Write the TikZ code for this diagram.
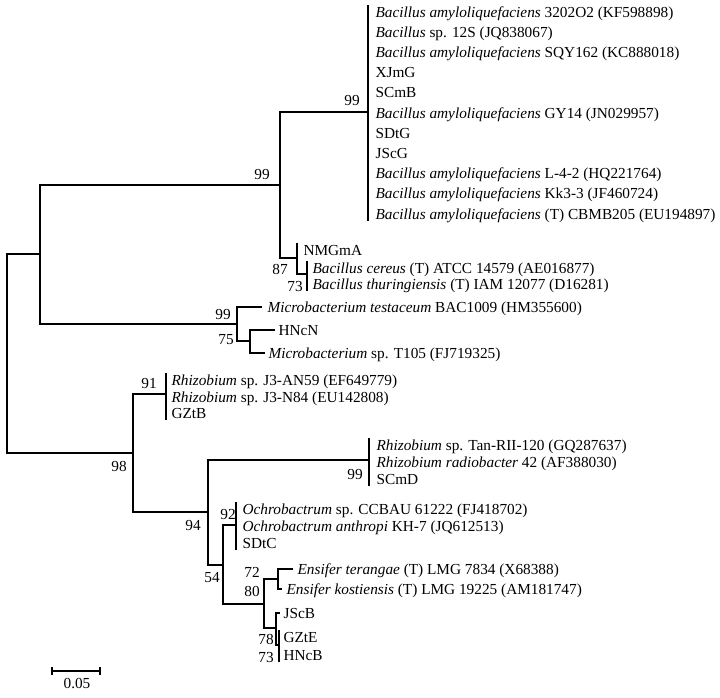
\documentclass[tikz,border=0pt]{standalone}
\usepackage{fontspec}
\setmainfont{Liberation Serif}
\usetikzlibrary{positioning,calc}

\tikzset{
  taxon/.style={anchor=west, inner sep=0pt, text height=11pt, text depth=1pt},
  boot/.style={inner sep=0pt}
}

\begin{document}
\begin{tikzpicture}[x=1pt, y=-1pt, line width=1.1pt,
    font=\fontsize{15.3pt}{18pt}\selectfont]
    \useasboundingbox (0,0) rectangle (720,697);

    % internal nodes of the tree
    \coordinate (root) at (7,354);
    \coordinate (nA) at (40,254);
    \coordinate (nB) at (280,185);
    \coordinate (nBam) at (368,112);
    \coordinate (nC) at (297,258);
    \coordinate (nD) at (307,274);
    \coordinate (nM) at (237,324);
    \coordinate (nN) at (250,341);
    \coordinate (nR) at (133,453);
    \coordinate (nJ3) at (166,394);
    \coordinate (nS) at (208,512);
    \coordinate (nRad) at (369,460);
    \coordinate (nT) at (223,565);
    \coordinate (nOch) at (236,525);
    \coordinate (nE) at (264,604);
    \coordinate (nF) at (278,579);
    \coordinate (nG) at (276,628);
    \coordinate (nH) at (279,645);

    % ends of tip branches
    \coordinate (tMt) at (262,307);
    \coordinate (tHNcN) at (275,330);
    \coordinate (tT105) at (265,353);
    \coordinate (tEt) at (293,569);
    \coordinate (tEk) at (282,589);
    \coordinate (tJScB) at (280,613);

    % Bacillus amyloliquefaciens cluster
    \node [taxon] (bam1) at (375,12) {\textit{Bacillus amyloliquefaciens} 3202O2 (KF598898)};
    \node [taxon] (bam2) at (375,32.2) {\textit{Bacillus} sp. 12S (JQ838067)};
    \node [taxon] (bam3) at (375,52.4) {\textit{Bacillus amyloliquefaciens} SQY162 (KC888018)};
    \node [taxon] (bam4) at (375,72.6) {XJmG};
    \node [taxon] (bam5) at (375,92.8) {SCmB};
    \node [taxon] (bam6) at (375,113) {\textit{Bacillus amyloliquefaciens} GY14 (JN029957)};
    \node [taxon] (bam7) at (375,133.2) {SDtG};
    \node [taxon] (bam8) at (375,153.4) {JScG};
    \node [taxon] (bam9) at (375,173.6) {\textit{Bacillus amyloliquefaciens} L-4-2 (HQ221764)};
    \node [taxon] (bam10) at (375,193.8) {\textit{Bacillus amyloliquefaciens} Kk3-3 (JF460724)};
    \node [taxon] (bam11) at (375,214) {\textit{Bacillus amyloliquefaciens} (T) CBMB205 (EU194897)};

    % Bacillus cereus group
    \node [taxon] (nmg) at (303,250) {NMGmA};
    \node [taxon] (cer) at (312,268) {\textit{Bacillus cereus} (T) ATCC 14579 (AE016877)};
    \node [taxon] (thu) at (312,284) {\textit{Bacillus thuringiensis} (T) IAM 12077 (D16281)};

    % Microbacterium
    \node [taxon, right=5pt of tMt] (mt) {\textit{Microbacterium testaceum} BAC1009 (HM355600)};
    \node [taxon, right=3pt of tHNcN] (hncn) {HNcN};
    \node [taxon, right=3pt of tT105] (t105) {\textit{Microbacterium} sp. T105 (FJ719325)};

    % Rhizobium J3
    \node [taxon] (j1) at (171,380) {\textit{Rhizobium} sp. J3-AN59 (EF649779)};
    \node [taxon] (j2) at (171,397) {\textit{Rhizobium} sp. J3-N84 (EU142808)};
    \node [taxon] (j3) at (171,413) {GZtB};

    % Rhizobium radiobacter
    \node [taxon] (r1) at (376,445) {\textit{Rhizobium} sp. Tan-RII-120 (GQ287637)};
    \node [taxon] (r2) at (376,462) {\textit{Rhizobium radiobacter} 42 (AF388030)};
    \node [taxon] (r3) at (376,479) {SCmD};

    % Ochrobactrum
    \node [taxon] (o1) at (242,509) {\textit{Ochrobactrum} sp. CCBAU 61222 (FJ418702)};
    \node [taxon] (o2) at (242,526) {\textit{Ochrobactrum anthropi} KH-7 (JQ612513)};
    \node [taxon] (o3) at (242,543) {SDtC};

    % Ensifer
    \node [taxon, right=4pt of tEt] (et) {\textit{Ensifer terangae} (T) LMG 7834 (X68388)};
    \node [taxon, right=4pt of tEk] (ek) {\textit{Ensifer kostiensis} (T) LMG 19225 (AM181747)};
    \node [taxon, right=3pt of tJScB] (jscb) {JScB};
    \node [taxon] (gzte) at (283,637) {GZtE};
    \node [taxon] (hncb) at (283,655) {HNcB};

    % branches
    \draw (root) |- (nA);
    \draw (root) |- (nR);
    \draw (nA) |- (nB);
    \draw (nA) |- (nM);
    \draw (nB) |- (nBam);
    \draw (nB) |- (nC);
    \draw (nC |- nmg.north) |- (nD);
    \draw (nM) |- (tMt);
    \draw (nM) |- (nN);
    \draw (nN) |- (tHNcN);
    \draw (nN) |- (tT105);
    \draw (nR) |- (nJ3);
    \draw (nR) |- (nS);
    \draw (nS) |- (nRad);
    \draw (nS) |- (nT);
    \draw (nT) |- (nOch);
    \draw (nT) |- (nE);
    \draw (nE) |- (nF);
    \draw (nE) |- (nG);
    \draw (nF) |- (tEt);
    \draw (nF) |- (tEk);
    \draw (nG) |- (tJScB);
    \draw (nG) |- (nH);

    % clusters of identical tips
    \draw (nBam |- bam1.north) -- (nBam |- bam11.south);
    \draw (nD |- cer.north) -- (nD |- thu.south);
    \draw (nJ3 |- j1.north) -- (nJ3 |- j3.south);
    \draw (nRad |- r1.north) -- (nRad |- r3.south);
    \draw (nOch |- o1.north) -- (nOch |- o3.south);
    \draw (nH |- gzte.north) -- (nH |- hncb.south);

    % bootstrap values
    \node [boot] (bBam) at (352,101) {99};
    \node [boot] (bB) at (262,175) {99};
    \node [boot] (bC) at (280,269) {87};
    \node [boot] (bD) at (295,287) {73};
    \node [boot] (bM) at (223,315) {99};
    \node [boot] (bN) at (226,340) {75};
    \node [boot] (bJ3) at (149,384) {91};
    \node [boot] (bR) at (119,466) {98};
    \node [boot] (bRad) at (355,474) {99};
    \node [boot] (bS) at (193,525) {94};
    \node [boot] (bOch) at (228,514) {92};
    \node [boot] (bT) at (212,578) {54};
    \node [boot] (bF) at (252,572) {72};
    \node [boot] (bE) at (252,591) {80};
    \node [boot] (bG) at (266,639) {78};
    \node [boot] (bH) at (266,657) {73};

    % scale bar
    \coordinate (sbL) at (52,671);
    \coordinate (sbR) at (100,671);
    \draw (sbL) -- (sbR);
    \draw ([yshift=4pt]sbL) -- ([yshift=-4pt]sbL);
    \draw ([yshift=4pt]sbR) -- ([yshift=-4pt]sbR);
    \node [boot] (sbLab) at (77,684) {0.05};
\end{tikzpicture}
\end{document}
